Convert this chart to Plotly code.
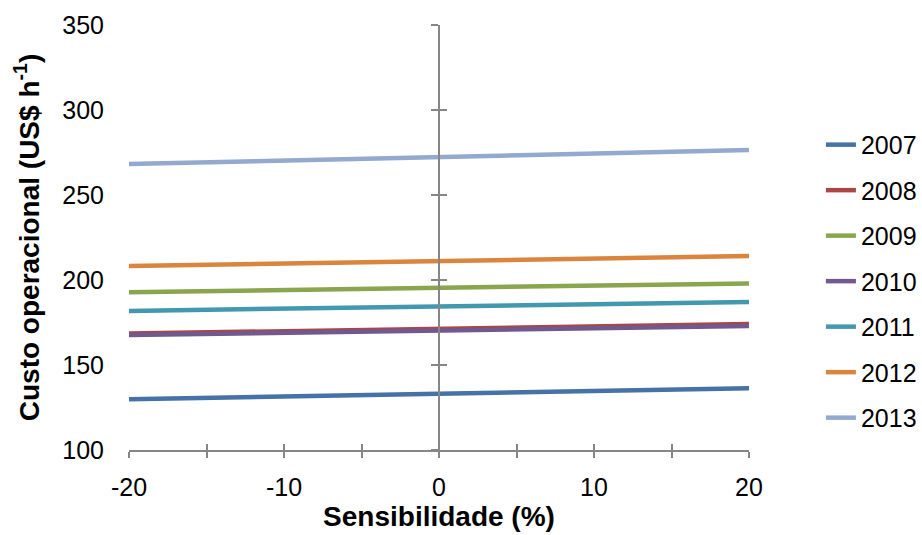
import plotly.graph_objects as go

sens = [-20, -10, 0, 10, 20]
x_tickvals = [-20, -10, 0, 10, 20]
x_ticktext = ["-20", "-10", "0", "10", "20"]
years = ["2007", "2008", "2009", "2010", "2011", "2012", "2013"]
v2007 = [129.8, 131.4, 133.0, 134.7, 136.3]
v2008 = [168.5, 169.9, 171.3, 172.7, 174.1]
v2009 = [192.8, 194.1, 195.4, 196.7, 198.0]
v2011 = [181.8, 183.1, 184.5, 185.8, 187.1]
v2010 = [167.6, 168.9, 170.3, 171.6, 172.9]
v2012 = [208.2, 209.7, 211.2, 212.6, 214.1]
v2013 = [268.2, 270.3, 272.4, 274.4, 276.5]
series = {"2007": v2007, "2008": v2008, "2009": v2009, "2010": v2010,
          "2011": v2011, "2012": v2012, "2013": v2013}
colors = {"2007": "#4572A7", "2008": "#AA4643", "2009": "#89A54E", "2010": "#71588F",
          "2011": "#4198AF", "2012": "#DB843D", "2013": "#93A9CF"}

FONT = "Liberation Sans"
AX = "#868686"

fig = go.Figure()
for y in years:
    fig.add_trace(go.Scatter(x=sens, y=series[y], mode="lines", name=y,
                             legendgroup=y,
                             line=dict(color=colors[y], width=4.5)))
# helper (empty) traces so the crossing-tick axes are drawn
fig.add_trace(go.Scatter(x=[], y=[], xaxis="x2", yaxis="y2", showlegend=False, hoverinfo="skip"))
fig.add_trace(go.Scatter(x=[], y=[], xaxis="x2", yaxis="y3", showlegend=False, hoverinfo="skip"))

fig.update_layout(
    width=922, height=535,
    margin=dict(l=129, r=173, t=25, b=85, autoexpand=False),
    paper_bgcolor="white", plot_bgcolor="white",
    font=dict(family=FONT, size=25, color="black"),
    legend=dict(x=1.116, y=0.772, xanchor="left", yanchor="top",
                font=dict(size=25), tracegroupgap=10, bgcolor="rgba(0,0,0,0)"),
    xaxis=dict(range=[-20, 20], tickvals=x_tickvals, ticktext=x_ticktext,
               showgrid=False, zeroline=False,
               showline=True, linecolor=AX, linewidth=1.5,
               ticks="outside", ticklen=6, tickwidth=1.5, tickcolor=AX,
               minor=dict(dtick=5, tick0=0, ticks="outside", ticklen=6, tickwidth=1.5, tickcolor=AX),
               tickfont=dict(size=25), ticklabelstandoff=8,
               title=dict(text="<b>Sensibilidade (%)</b>", font=dict(size=28), standoff=6)),
    xaxis2=dict(range=[-20, 20], dtick=10, tick0=0, overlaying="x", anchor="y",
                showgrid=False, zeroline=False, showline=False, showticklabels=False,
                ticks="inside", ticklen=6, tickwidth=1.5, tickcolor=AX,
                minor=dict(dtick=5, ticks="inside", ticklen=6, tickwidth=1.5, tickcolor=AX)),
    yaxis=dict(range=[100, 350], dtick=50, showgrid=False, zeroline=False, showline=False,
               ticks="", tickfont=dict(size=25), ticklabelstandoff=24,
               title=dict(text="<b>Custo operacional (US$ h<sup>-1</sup>)</b>",
                          font=dict(size=28), standoff=14)),
    yaxis2=dict(range=[100, 350], dtick=50, overlaying="y", anchor="free", position=0.5,
                showgrid=False, zeroline=False, showline=True, linecolor=AX, linewidth=1.5,
                showticklabels=False, ticks="outside", ticklen=7, tickwidth=1.5, tickcolor=AX),
    yaxis3=dict(range=[100, 350], dtick=50, overlaying="y", anchor="free", position=0.5,
                showgrid=False, zeroline=False, showline=False,
                showticklabels=False, ticks="inside", ticklen=7, tickwidth=1.5, tickcolor=AX),
)
fig.write_html("out.html")
